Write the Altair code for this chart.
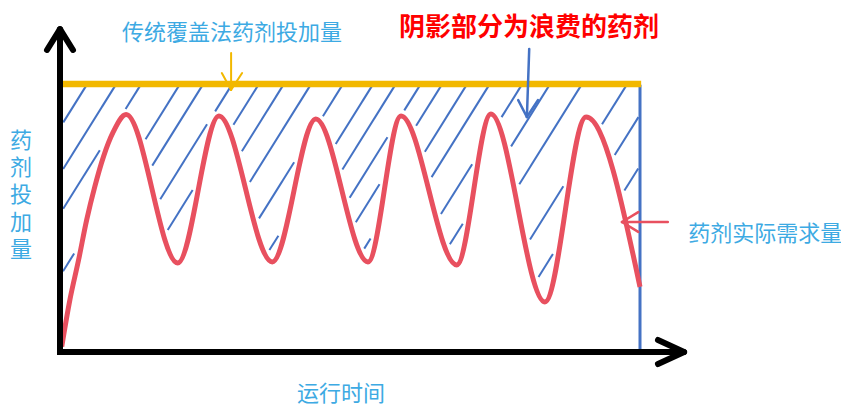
import altair as alt
import numpy as np
import pandas as pd

# ---------------- data (time %, dose %) ----------------
curve_t = [0.3, 1.7, 3.2, 4.6, 6.0, 7.5, 9.2, 11.4, 20.3, 27.4, 36.6, 44.1, 53.1, 58.8, 68.4, 74.3, 83.6, 90.7, 100.0]
curve_d = [2.0, 19.4, 34.3, 49.3, 61.7, 72.9, 82.2, 88.6, 33.2, 88.1, 33.6, 86.9, 33.6, 88.1, 32.5, 88.8, 18.7, 87.7, 24.3]
conventional_dose = 100.0   # 传统覆盖法药剂投加量
run_end = 100.0             # 运行时间终点
# time at which each hatch stroke meets the conventional-dose line
hatch_t = [4.7, 9.7, 14.0, 20.7, 24.7, 29.7, 34.3, 38.6, 43.3, 48.8, 54.0, 57.9,
           62.2, 65.9, 70.2, 74.1, 79.7, 84.5, 90.0, 97.8, 103.3, 108.8]

label_top = "传统覆盖法药剂投加量"
label_waste = "阴影部分为浪费的药剂"
label_demand = "药剂实际需求量"
label_y = "药剂投加量"
label_x = "运行时间"

# ---------------- layout ----------------
W, H = 833, 396
X0, XU = 52.0, 5.8      # plot-x of t=0, px per time unit
Y0, YU = 344.0, 2.68    # plot-y of d=0, px per dose unit
tmin, tmax = -X0 / XU, (W - X0) / XU
dmin, dmax = (Y0 - H) / YU, Y0 / YU
xs = alt.Scale(domain=[tmin, tmax], nice=False, zero=False)
ys = alt.Scale(domain=[dmin, dmax], nice=False, zero=False)

BLUE = "#4472C4"
ORANGE = "#F2B800"
RED = "#E8505F"
TXT = "#3DAAE3"
FONT = "Noto Sans CJK SC"


def px(t, d):
    return X0 + XU * np.asarray(t, float), Y0 - YU * np.asarray(d, float)


def monotone(xk, yk, xq):
    """d3.curveMonotoneX evaluated as y(x)."""
    xk = np.asarray(xk, float); yk = np.asarray(yk, float)
    n = len(xk)
    h = np.diff(xk); s = np.diff(yk) / h
    tg = np.zeros(n)
    for i in range(1, n - 1):
        h0, h1, s0, s1 = h[i - 1], h[i], s[i - 1], s[i]
        p = (s0 * h1 + s1 * h0) / (h0 + h1)
        tg[i] = (np.sign(s0) + np.sign(s1)) * min(abs(s0), abs(s1), 0.5 * abs(p))
    tg[0] = (3 * s[0] - tg[1]) / 2
    tg[-1] = (3 * s[-1] - tg[-2]) / 2
    out = np.empty_like(xq)
    for j, x in enumerate(xq):
        i = min(max(np.searchsorted(xk, x) - 1, 0), n - 2)
        dx = h[i]; u = (x - xk[i]) / dx
        p0, p3 = yk[i], yk[i + 1]
        p1 = p0 + dx * tg[i] / 3; p2 = p3 - dx * tg[i + 1] / 3
        out[j] = (1 - u) ** 3 * p0 + 3 * (1 - u) ** 2 * u * p1 + 3 * (1 - u) * u ** 2 * p2 + u ** 3 * p3
    return out


# hatch strokes clipped to the region between the demand curve and the conventional dose
tq = np.linspace(curve_t[0], curve_t[-1], 2400)
cx, cy = px(tq, monotone(curve_t, curve_d, tq))
_, ytop = px(0, conventional_dose)
xr, _ = px(run_end, 0)
segs = []
for t0 in hatch_t:
    xt, _ = px(t0, conventional_dose)
    X = np.arange(xt, xt - 320, -0.3)
    Y = ytop + (xt - X) * 1.6
    above = Y < np.interp(X, cx, cy, left=1e9)
    dist = np.sqrt(((X[:, None] - cx[None, :]) ** 2 + (Y[:, None] - cy[None, :]) ** 2).min(axis=1))
    m = (X >= X0 + 3) & (X <= xr - 1.5) & (Y >= ytop + 2) & (Y <= Y0) & above & (dist >= 5.5)
    idx = np.where(m)[0]
    if len(idx) == 0:
        continue
    runs = np.split(idx, np.where(np.diff(idx) > 1)[0] + 1)
    for r in runs:
        a, b = r[0], r[-1]
        if np.hypot(X[a] - X[b], Y[a] - Y[b]) < 4:
            continue
        segs.append(dict(t=(X[a] - X0) / XU, d=(Y0 - Y[a]) / YU, t2=(X[b] - X0) / XU, d2=(Y0 - Y[b]) / YU))
hatch_df = pd.DataFrame(segs)

curve_df = pd.DataFrame({"t": curve_t, "d": curve_d})

enc = dict(x=alt.X("t:Q", scale=xs, axis=None), y=alt.Y("d:Q", scale=ys, axis=None))
enc2 = dict(x2="t2:Q", y2="d2:Q")


def seg_layer(rows, color, width, cap="round"):
    df = pd.DataFrame(rows, columns=["t", "d", "t2", "d2"])
    return alt.Chart(df).mark_rule(color=color, strokeWidth=width, strokeCap=cap).encode(**enc, **enc2)


hatch = alt.Chart(hatch_df).mark_rule(color=BLUE, strokeWidth=2).encode(**enc, **enc2)
blue_end = seg_layer([[run_end, conventional_dose - 0.3, run_end, 0.0]], BLUE, 3, "butt")
orange = seg_layer([[-0.5, conventional_dose, run_end + 0.2, conventional_dose]], ORANGE, 6.5, "butt")
curve = alt.Chart(curve_df).mark_line(color=RED, strokeWidth=5, interpolate="monotone").encode(**enc)

axes_shafts = seg_layer([[0, -1.1, 0, 119.5], [-0.5, 0, 107.0, 0]], "#000000", 6, "butt")
axes_heads = seg_layer([[-2.24, 112.7, 0, 120.5], [2.24, 112.7, 0, 120.5],
                        [103.1, 4.48, 107.6, 0], [103.1, -4.48, 107.6, 0]], "#000000", 6, "round")
orange_arrow = seg_layer([[29.5, 111.6, 29.5, 97.8], [27.9, 104.1, 29.5, 97.8], [31.4, 104.1, 29.5, 97.8]], ORANGE, 2)
blue_arrow = seg_layer([[80.9, 113.1, 80.5, 87.7], [79.0, 94.0, 80.5, 87.7], [82.4, 94.0, 80.5, 87.7]], BLUE, 2.5)
red_arrow = seg_layer([[104.8, 48.5, 96.9, 48.5], [99.7, 52.2, 96.9, 48.5], [99.7, 44.8, 96.9, 48.5]], RED, 2.5)


def text_layer(t, d, txt, size, color, align="center", weight="normal", **kw):
    df = pd.DataFrame({"t": [t], "d": [d], "txt": [txt]})
    return alt.Chart(df).mark_text(font=FONT, fontSize=size, color=color, align=align,
                                   baseline="middle", fontWeight=weight, dy=2, **kw).encode(**enc, text="txt:N")


texts = [
    text_layer(29.66, 119.8, label_top, 22, TXT),
    text_layer(80.86, 121.6, label_waste, 26, "#FF0000", weight="bold"),
    text_layer(108.3, 44.8, label_demand, 22, TXT, align="left"),
    text_layer(48.45, -14.9, label_x, 22, TXT),
    text_layer(-6.72, 79.5, "\n".join(label_y), 22, TXT, lineBreak="\n", lineHeight=27.2),
]

chart = alt.layer(
    hatch, blue_end, orange, curve, axes_shafts, axes_heads,
    orange_arrow, blue_arrow, red_arrow, *texts
).properties(width=W, height=H, padding=0, autosize=alt.AutoSizeParams(type="none"),
             background="white").configure_view(stroke=None)

chart.save("out.html", embed_options={"renderer": "svg", "actions": False})
